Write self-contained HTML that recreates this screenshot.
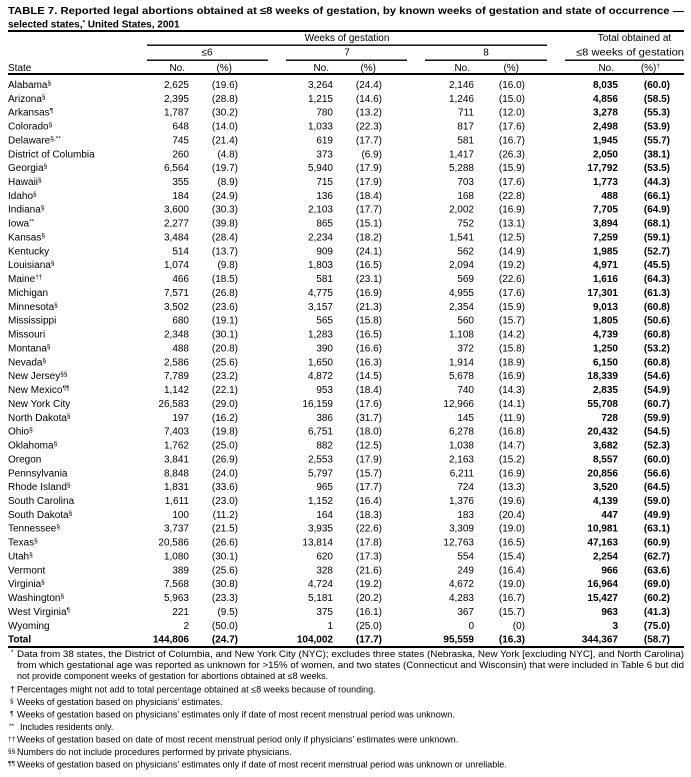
<!DOCTYPE html>
<html>
<head>
<meta charset="utf-8">
<style>
html,body{margin:0;padding:0;background:#fff;}
svg{display:block;}
text{font-family:"Liberation Sans",Arial,sans-serif;font-size:10px;fill:#000;}
.r{text-anchor:end;}
.c{text-anchor:middle;}
.b{font-weight:bold;}
.s{font-size:6.5px;}
.f{font-size:9px;}
.fs{font-size:6.5px;}
</style>
</head>
<body>
<svg width="691" height="777" viewBox="0 0 691 777" xmlns="http://www.w3.org/2000/svg">
<rect x="0" y="0" width="691" height="777" fill="#fff"/>
<!-- Title -->
<text x="8" y="14" class="b" textLength="676" lengthAdjust="spacingAndGlyphs">TABLE 7. Reported legal abortions obtained at ≤8 weeks of gestation, by known weeks of gestation and state of occurrence —</text>
<text x="8" y="27.5" class="b">selected states,<tspan class="s" dy="-3">*</tspan><tspan dy="3"> United States, 2001</tspan></text>
<rect x="8" y="30" width="676" height="2" fill="#000"/>
<!-- Header -->
<text x="347" y="41" class="c">Weeks of gestation</text>
<text x="634.5" y="41" class="c">Total obtained at</text>
<rect x="147" y="44.5" width="400" height="1.4" fill="#000"/>
<text x="207" y="55.5" class="c">≤6</text>
<text x="347" y="55.5" class="c">7</text>
<text x="486" y="55.5" class="c">8</text>
<text x="576" y="55.5" textLength="108" lengthAdjust="spacingAndGlyphs">≤8 weeks of gestation</text>
<rect x="147" y="59.5" width="121" height="1.4" fill="#000"/>
<rect x="286" y="59.5" width="121" height="1.4" fill="#000"/>
<rect x="425" y="59.5" width="122" height="1.4" fill="#000"/>
<rect x="565" y="59.5" width="119" height="1.4" fill="#000"/>
<text x="8" y="71">State</text>
<text x="185" y="71" class="r">No.</text>
<text x="232" y="71" class="r">(%)</text>
<text x="329" y="71" class="r">No.</text>
<text x="376" y="71" class="r">(%)</text>
<text x="470" y="71" class="r">No.</text>
<text x="519" y="71" class="r">(%)</text>
<text x="614" y="71" class="r">No.</text>
<text x="660" y="71" class="r">(%)<tspan class="s" dy="-3">†</tspan></text>
<rect x="8" y="73" width="676" height="2" fill="#000"/>

<!-- Rows -->
<g transform="translate(0,87.9)"><text x="8">Alabama<tspan class="s" dy="-3">§</tspan></text><text x="189" class="r">2,625</text><text x="238" class="r">(19.6)</text><text x="333" class="r">3,264</text><text x="382" class="r">(24.4)</text><text x="474" class="r">2,146</text><text x="525" class="r">(16.0)</text><text x="618" class="r b">8,035</text><text x="670" class="r b">(60.0)</text></g>
<g transform="translate(0,101.77)"><text x="8">Arizona<tspan class="s" dy="-3">§</tspan></text><text x="189" class="r">2,395</text><text x="238" class="r">(28.8)</text><text x="333" class="r">1,215</text><text x="382" class="r">(14.6)</text><text x="474" class="r">1,246</text><text x="525" class="r">(15.0)</text><text x="618" class="r b">4,856</text><text x="670" class="r b">(58.5)</text></g>
<g transform="translate(0,115.64)"><text x="8">Arkansas<tspan class="s" dy="-3">¶</tspan></text><text x="189" class="r">1,787</text><text x="238" class="r">(30.2)</text><text x="333" class="r">780</text><text x="382" class="r">(13.2)</text><text x="474" class="r">711</text><text x="525" class="r">(12.0)</text><text x="618" class="r b">3,278</text><text x="670" class="r b">(55.3)</text></g>
<g transform="translate(0,129.51)"><text x="8">Colorado<tspan class="s" dy="-3">§</tspan></text><text x="189" class="r">648</text><text x="238" class="r">(14.0)</text><text x="333" class="r">1,033</text><text x="382" class="r">(22.3)</text><text x="474" class="r">817</text><text x="525" class="r">(17.6)</text><text x="618" class="r b">2,498</text><text x="670" class="r b">(53.9)</text></g>
<g transform="translate(0,143.38)"><text x="8">Delaware<tspan class="s" dy="-3">§,**</tspan></text><text x="189" class="r">745</text><text x="238" class="r">(21.4)</text><text x="333" class="r">619</text><text x="382" class="r">(17.7)</text><text x="474" class="r">581</text><text x="525" class="r">(16.7)</text><text x="618" class="r b">1,945</text><text x="670" class="r b">(55.7)</text></g>
<g transform="translate(0,157.25)"><text x="8">District of Columbia</text><text x="189" class="r">260</text><text x="238" class="r">(4.8)</text><text x="333" class="r">373</text><text x="382" class="r">(6.9)</text><text x="474" class="r">1,417</text><text x="525" class="r">(26.3)</text><text x="618" class="r b">2,050</text><text x="670" class="r b">(38.1)</text></g>
<g transform="translate(0,171.12)"><text x="8">Georgia<tspan class="s" dy="-3">§</tspan></text><text x="189" class="r">6,564</text><text x="238" class="r">(19.7)</text><text x="333" class="r">5,940</text><text x="382" class="r">(17.9)</text><text x="474" class="r">5,288</text><text x="525" class="r">(15.9)</text><text x="618" class="r b">17,792</text><text x="670" class="r b">(53.5)</text></g>
<g transform="translate(0,184.99)"><text x="8">Hawaii<tspan class="s" dy="-3">§</tspan></text><text x="189" class="r">355</text><text x="238" class="r">(8.9)</text><text x="333" class="r">715</text><text x="382" class="r">(17.9)</text><text x="474" class="r">703</text><text x="525" class="r">(17.6)</text><text x="618" class="r b">1,773</text><text x="670" class="r b">(44.3)</text></g>
<g transform="translate(0,198.86)"><text x="8">Idaho<tspan class="s" dy="-3">§</tspan></text><text x="189" class="r">184</text><text x="238" class="r">(24.9)</text><text x="333" class="r">136</text><text x="382" class="r">(18.4)</text><text x="474" class="r">168</text><text x="525" class="r">(22.8)</text><text x="618" class="r b">488</text><text x="670" class="r b">(66.1)</text></g>
<g transform="translate(0,212.73)"><text x="8">Indiana<tspan class="s" dy="-3">§</tspan></text><text x="189" class="r">3,600</text><text x="238" class="r">(30.3)</text><text x="333" class="r">2,103</text><text x="382" class="r">(17.7)</text><text x="474" class="r">2,002</text><text x="525" class="r">(16.9)</text><text x="618" class="r b">7,705</text><text x="670" class="r b">(64.9)</text></g>
<g transform="translate(0,226.6)"><text x="8">Iowa<tspan class="s" dy="-3">**</tspan></text><text x="189" class="r">2,277</text><text x="238" class="r">(39.8)</text><text x="333" class="r">865</text><text x="382" class="r">(15.1)</text><text x="474" class="r">752</text><text x="525" class="r">(13.1)</text><text x="618" class="r b">3,894</text><text x="670" class="r b">(68.1)</text></g>
<g transform="translate(0,240.47)"><text x="8">Kansas<tspan class="s" dy="-3">§</tspan></text><text x="189" class="r">3,484</text><text x="238" class="r">(28.4)</text><text x="333" class="r">2,234</text><text x="382" class="r">(18.2)</text><text x="474" class="r">1,541</text><text x="525" class="r">(12.5)</text><text x="618" class="r b">7,259</text><text x="670" class="r b">(59.1)</text></g>
<g transform="translate(0,254.34)"><text x="8">Kentucky</text><text x="189" class="r">514</text><text x="238" class="r">(13.7)</text><text x="333" class="r">909</text><text x="382" class="r">(24.1)</text><text x="474" class="r">562</text><text x="525" class="r">(14.9)</text><text x="618" class="r b">1,985</text><text x="670" class="r b">(52.7)</text></g>
<g transform="translate(0,268.21)"><text x="8">Louisiana<tspan class="s" dy="-3">§</tspan></text><text x="189" class="r">1,074</text><text x="238" class="r">(9.8)</text><text x="333" class="r">1,803</text><text x="382" class="r">(16.5)</text><text x="474" class="r">2,094</text><text x="525" class="r">(19.2)</text><text x="618" class="r b">4,971</text><text x="670" class="r b">(45.5)</text></g>
<g transform="translate(0,282.08)"><text x="8">Maine<tspan class="s" dy="-3">††</tspan></text><text x="189" class="r">466</text><text x="238" class="r">(18.5)</text><text x="333" class="r">581</text><text x="382" class="r">(23.1)</text><text x="474" class="r">569</text><text x="525" class="r">(22.6)</text><text x="618" class="r b">1,616</text><text x="670" class="r b">(64.3)</text></g>
<g transform="translate(0,295.95)"><text x="8">Michigan</text><text x="189" class="r">7,571</text><text x="238" class="r">(26.8)</text><text x="333" class="r">4,775</text><text x="382" class="r">(16.9)</text><text x="474" class="r">4,955</text><text x="525" class="r">(17.6)</text><text x="618" class="r b">17,301</text><text x="670" class="r b">(61.3)</text></g>
<g transform="translate(0,309.82)"><text x="8">Minnesota<tspan class="s" dy="-3">§</tspan></text><text x="189" class="r">3,502</text><text x="238" class="r">(23.6)</text><text x="333" class="r">3,157</text><text x="382" class="r">(21.3)</text><text x="474" class="r">2,354</text><text x="525" class="r">(15.9)</text><text x="618" class="r b">9,013</text><text x="670" class="r b">(60.8)</text></g>
<g transform="translate(0,323.69)"><text x="8">Mississippi</text><text x="189" class="r">680</text><text x="238" class="r">(19.1)</text><text x="333" class="r">565</text><text x="382" class="r">(15.8)</text><text x="474" class="r">560</text><text x="525" class="r">(15.7)</text><text x="618" class="r b">1,805</text><text x="670" class="r b">(50.6)</text></g>
<g transform="translate(0,337.56)"><text x="8">Missouri</text><text x="189" class="r">2,348</text><text x="238" class="r">(30.1)</text><text x="333" class="r">1,283</text><text x="382" class="r">(16.5)</text><text x="474" class="r">1,108</text><text x="525" class="r">(14.2)</text><text x="618" class="r b">4,739</text><text x="670" class="r b">(60.8)</text></g>
<g transform="translate(0,351.43)"><text x="8">Montana<tspan class="s" dy="-3">§</tspan></text><text x="189" class="r">488</text><text x="238" class="r">(20.8)</text><text x="333" class="r">390</text><text x="382" class="r">(16.6)</text><text x="474" class="r">372</text><text x="525" class="r">(15.8)</text><text x="618" class="r b">1,250</text><text x="670" class="r b">(53.2)</text></g>
<g transform="translate(0,365.3)"><text x="8">Nevada<tspan class="s" dy="-3">§</tspan></text><text x="189" class="r">2,586</text><text x="238" class="r">(25.6)</text><text x="333" class="r">1,650</text><text x="382" class="r">(16.3)</text><text x="474" class="r">1,914</text><text x="525" class="r">(18.9)</text><text x="618" class="r b">6,150</text><text x="670" class="r b">(60.8)</text></g>
<g transform="translate(0,379.17)"><text x="8">New Jersey<tspan class="s" dy="-3">§§</tspan></text><text x="189" class="r">7,789</text><text x="238" class="r">(23.2)</text><text x="333" class="r">4,872</text><text x="382" class="r">(14.5)</text><text x="474" class="r">5,678</text><text x="525" class="r">(16.9)</text><text x="618" class="r b">18,339</text><text x="670" class="r b">(54.6)</text></g>
<g transform="translate(0,393.04)"><text x="8">New Mexico<tspan class="s" dy="-3">¶¶</tspan></text><text x="189" class="r">1,142</text><text x="238" class="r">(22.1)</text><text x="333" class="r">953</text><text x="382" class="r">(18.4)</text><text x="474" class="r">740</text><text x="525" class="r">(14.3)</text><text x="618" class="r b">2,835</text><text x="670" class="r b">(54.9)</text></g>
<g transform="translate(0,406.91)"><text x="8">New York City</text><text x="189" class="r">26,583</text><text x="238" class="r">(29.0)</text><text x="333" class="r">16,159</text><text x="382" class="r">(17.6)</text><text x="474" class="r">12,966</text><text x="525" class="r">(14.1)</text><text x="618" class="r b">55,708</text><text x="670" class="r b">(60.7)</text></g>
<g transform="translate(0,420.78)"><text x="8">North Dakota<tspan class="s" dy="-3">§</tspan></text><text x="189" class="r">197</text><text x="238" class="r">(16.2)</text><text x="333" class="r">386</text><text x="382" class="r">(31.7)</text><text x="474" class="r">145</text><text x="525" class="r">(11.9)</text><text x="618" class="r b">728</text><text x="670" class="r b">(59.9)</text></g>
<g transform="translate(0,434.65)"><text x="8">Ohio<tspan class="s" dy="-3">§</tspan></text><text x="189" class="r">7,403</text><text x="238" class="r">(19.8)</text><text x="333" class="r">6,751</text><text x="382" class="r">(18.0)</text><text x="474" class="r">6,278</text><text x="525" class="r">(16.8)</text><text x="618" class="r b">20,432</text><text x="670" class="r b">(54.5)</text></g>
<g transform="translate(0,448.52)"><text x="8">Oklahoma<tspan class="s" dy="-3">§</tspan></text><text x="189" class="r">1,762</text><text x="238" class="r">(25.0)</text><text x="333" class="r">882</text><text x="382" class="r">(12.5)</text><text x="474" class="r">1,038</text><text x="525" class="r">(14.7)</text><text x="618" class="r b">3,682</text><text x="670" class="r b">(52.3)</text></g>
<g transform="translate(0,462.39)"><text x="8">Oregon</text><text x="189" class="r">3,841</text><text x="238" class="r">(26.9)</text><text x="333" class="r">2,553</text><text x="382" class="r">(17.9)</text><text x="474" class="r">2,163</text><text x="525" class="r">(15.2)</text><text x="618" class="r b">8,557</text><text x="670" class="r b">(60.0)</text></g>
<g transform="translate(0,476.26)"><text x="8">Pennsylvania</text><text x="189" class="r">8,848</text><text x="238" class="r">(24.0)</text><text x="333" class="r">5,797</text><text x="382" class="r">(15.7)</text><text x="474" class="r">6,211</text><text x="525" class="r">(16.9)</text><text x="618" class="r b">20,856</text><text x="670" class="r b">(56.6)</text></g>
<g transform="translate(0,490.13)"><text x="8">Rhode Island<tspan class="s" dy="-3">§</tspan></text><text x="189" class="r">1,831</text><text x="238" class="r">(33.6)</text><text x="333" class="r">965</text><text x="382" class="r">(17.7)</text><text x="474" class="r">724</text><text x="525" class="r">(13.3)</text><text x="618" class="r b">3,520</text><text x="670" class="r b">(64.5)</text></g>
<g transform="translate(0,504)"><text x="8">South Carolina</text><text x="189" class="r">1,611</text><text x="238" class="r">(23.0)</text><text x="333" class="r">1,152</text><text x="382" class="r">(16.4)</text><text x="474" class="r">1,376</text><text x="525" class="r">(19.6)</text><text x="618" class="r b">4,139</text><text x="670" class="r b">(59.0)</text></g>
<g transform="translate(0,517.87)"><text x="8">South Dakota<tspan class="s" dy="-3">§</tspan></text><text x="189" class="r">100</text><text x="238" class="r">(11.2)</text><text x="333" class="r">164</text><text x="382" class="r">(18.3)</text><text x="474" class="r">183</text><text x="525" class="r">(20.4)</text><text x="618" class="r b">447</text><text x="670" class="r b">(49.9)</text></g>
<g transform="translate(0,531.74)"><text x="8">Tennessee<tspan class="s" dy="-3">§</tspan></text><text x="189" class="r">3,737</text><text x="238" class="r">(21.5)</text><text x="333" class="r">3,935</text><text x="382" class="r">(22.6)</text><text x="474" class="r">3,309</text><text x="525" class="r">(19.0)</text><text x="618" class="r b">10,981</text><text x="670" class="r b">(63.1)</text></g>
<g transform="translate(0,545.61)"><text x="8">Texas<tspan class="s" dy="-3">§</tspan></text><text x="189" class="r">20,586</text><text x="238" class="r">(26.6)</text><text x="333" class="r">13,814</text><text x="382" class="r">(17.8)</text><text x="474" class="r">12,763</text><text x="525" class="r">(16.5)</text><text x="618" class="r b">47,163</text><text x="670" class="r b">(60.9)</text></g>
<g transform="translate(0,559.48)"><text x="8">Utah<tspan class="s" dy="-3">§</tspan></text><text x="189" class="r">1,080</text><text x="238" class="r">(30.1)</text><text x="333" class="r">620</text><text x="382" class="r">(17.3)</text><text x="474" class="r">554</text><text x="525" class="r">(15.4)</text><text x="618" class="r b">2,254</text><text x="670" class="r b">(62.7)</text></g>
<g transform="translate(0,573.35)"><text x="8">Vermont</text><text x="189" class="r">389</text><text x="238" class="r">(25.6)</text><text x="333" class="r">328</text><text x="382" class="r">(21.6)</text><text x="474" class="r">249</text><text x="525" class="r">(16.4)</text><text x="618" class="r b">966</text><text x="670" class="r b">(63.6)</text></g>
<g transform="translate(0,587.22)"><text x="8">Virginia<tspan class="s" dy="-3">§</tspan></text><text x="189" class="r">7,568</text><text x="238" class="r">(30.8)</text><text x="333" class="r">4,724</text><text x="382" class="r">(19.2)</text><text x="474" class="r">4,672</text><text x="525" class="r">(19.0)</text><text x="618" class="r b">16,964</text><text x="670" class="r b">(69.0)</text></g>
<g transform="translate(0,601.09)"><text x="8">Washington<tspan class="s" dy="-3">§</tspan></text><text x="189" class="r">5,963</text><text x="238" class="r">(23.3)</text><text x="333" class="r">5,181</text><text x="382" class="r">(20.2)</text><text x="474" class="r">4,283</text><text x="525" class="r">(16.7)</text><text x="618" class="r b">15,427</text><text x="670" class="r b">(60.2)</text></g>
<g transform="translate(0,614.96)"><text x="8">West Virginia<tspan class="s" dy="-3">¶</tspan></text><text x="189" class="r">221</text><text x="238" class="r">(9.5)</text><text x="333" class="r">375</text><text x="382" class="r">(16.1)</text><text x="474" class="r">367</text><text x="525" class="r">(15.7)</text><text x="618" class="r b">963</text><text x="670" class="r b">(41.3)</text></g>
<g transform="translate(0,628.83)"><text x="8">Wyoming</text><text x="189" class="r">2</text><text x="238" class="r">(50.0)</text><text x="333" class="r">1</text><text x="382" class="r">(25.0)</text><text x="474" class="r">0</text><text x="525" class="r">(0)</text><text x="618" class="r b">3</text><text x="670" class="r b">(75.0)</text></g>
<g transform="translate(0,642.7)" class="b"><text x="8" class="b">Total</text><text x="189" class="r b">144,806</text><text x="238" class="r b">(24.7)</text><text x="333" class="r b">104,002</text><text x="382" class="r b">(17.7)</text><text x="474" class="r b">95,559</text><text x="525" class="r b">(16.3)</text><text x="618" class="r b">344,367</text><text x="670" class="r b">(58.7)</text></g>
<rect x="8" y="646" width="676" height="2" fill="#000"/>

<!-- Footnotes -->
<text x="11" y="654" class="fs">*</text>
<text x="17" y="657" class="f" textLength="667" lengthAdjust="spacingAndGlyphs">Data from 38 states, the District of Columbia, and New York City (NYC); excludes three states (Nebraska, New York [excluding NYC], and North Carolina)</text>
<text x="17" y="668" class="f" textLength="667" lengthAdjust="spacingAndGlyphs">from which gestational age was reported as unknown for &gt;15% of women, and two states (Connecticut and Wisconsin) that were included in Table 6 but did</text>
<text x="17" y="679" class="f">not provide component weeks of gestation for abortions obtained at ≤8 weeks.</text>
<text x="10" y="692.5" class="f">†</text>
<text x="17" y="692.5" class="f">Percentages might not add to total percentage obtained at ≤8 weeks because of rounding.</text>
<text x="10" y="703" class="fs">§</text>
<text x="17" y="705" class="f">Weeks of gestation based on physicians’ estimates.</text>
<text x="10" y="715.5" class="fs">¶</text>
<text x="17" y="717.5" class="f">Weeks of gestation based on physicians’ estimates only if date of most recent menstrual period was unknown.</text>
<text x="9" y="728" class="fs">**</text>
<text x="20" y="730" class="f">Includes residents only.</text>
<text x="8" y="741" class="fs">††</text>
<text x="17" y="742.5" class="f">Weeks of gestation based on date of most recent menstrual period only if physicians’ estimates were unknown.</text>
<text x="8" y="753" class="fs">§§</text>
<text x="17" y="755" class="f">Numbers do not include procedures performed by private physicians.</text>
<text x="8" y="765.5" class="fs">¶¶</text>
<text x="17" y="767.5" class="f">Weeks of gestation based on physicians’ estimates only if date of most recent menstrual period was unknown or unreliable.</text>
</svg>
</body>
</html>
